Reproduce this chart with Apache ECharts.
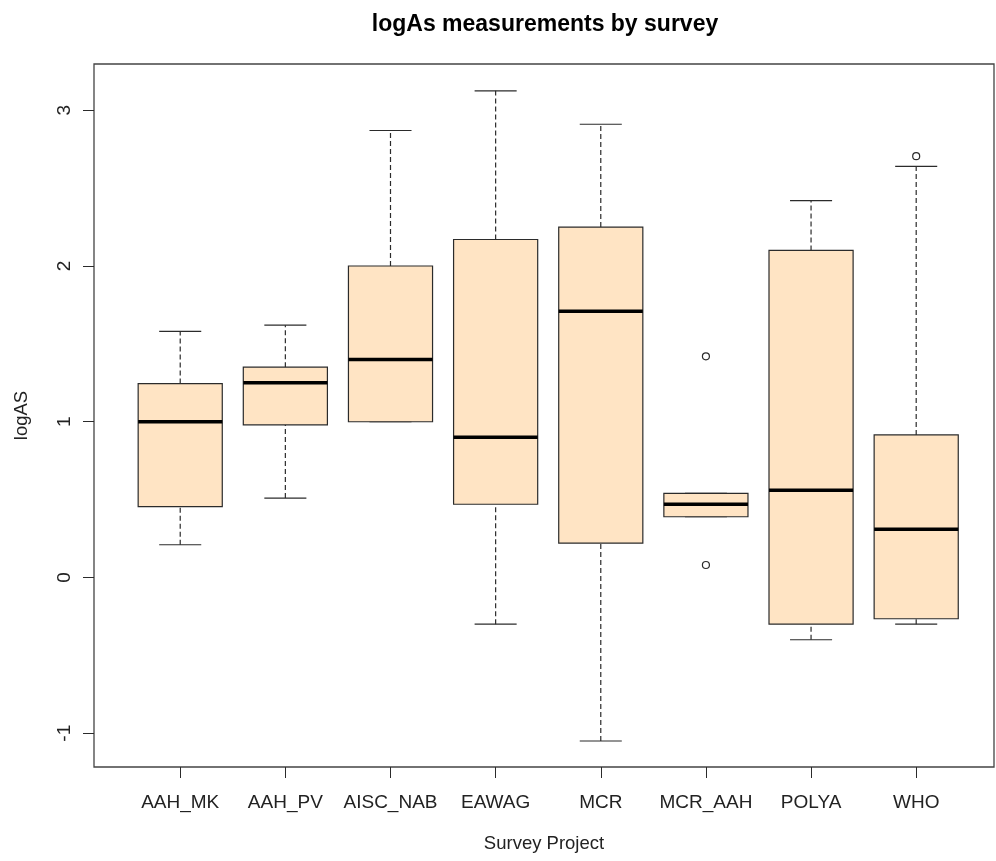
<!DOCTYPE html>
<html>
<head>
<meta charset="utf-8">
<title>logAs measurements by survey</title>
<script src="https://cdn.jsdelivr.net/npm/echarts@6/dist/echarts.min.js"></script>
<style>
    html, body { margin: 0; padding: 0; background: #fff; }
    #chart { width: 996px; height: 861px; }
</style>
</head>
<body>
<div id="chart"></div>
<script>
// survey projects, one box each (x position = index + 1)
const surveys = ['AAH_MK', 'AAH_PV', 'AISC_NAB', 'EAWAG', 'MCR', 'MCR_AAH', 'POLYA', 'WHO'];
const whiskerLow = [0.21, 0.51, 1.00, -0.30, -1.05, 0.39, -0.40, -0.30];
const q1 = [0.455, 0.98, 1.00, 0.47, 0.22, 0.39, -0.30, -0.265];
const median = [1.00, 1.25, 1.40, 0.90, 1.71, 0.47, 0.56, 0.31];
const q3 = [1.245, 1.35, 2.00, 2.17, 2.25, 0.54, 2.10, 0.915];
const whiskerHigh = [1.58, 1.62, 2.87, 3.125, 2.91, 0.54, 2.42, 2.64];

// points outside the whiskers
const outlierSurvey = ['MCR_AAH', 'MCR_AAH', 'WHO'];
const outlierValue = [1.42, 0.08, 2.705];

const yTicks = [-1, 0, 1, 2, 3];

const boxRows = surveys.map((s, i) => [i + 1, whiskerLow[i], q1[i], median[i], q3[i], whiskerHigh[i]]);
const outlierRows = outlierSurvey.map((s, i) => [surveys.indexOf(s) + 1, outlierValue[i]]);

const font = 'Liberation Sans, Arial, sans-serif';
const ink = '#2b2b2b';

function renderBox(params, api) {
    const x = api.value(0);
    const lo = api.coord([x, api.value(1)]);
    const b1 = api.coord([x, api.value(2)]);
    const md = api.coord([x, api.value(3)]);
    const b3 = api.coord([x, api.value(4)]);
    const hi = api.coord([x, api.value(5)]);
    const half = api.size([0.4, 0])[0];
    const cap = api.size([0.2, 0])[0];
    const cx = md[0];
    const dashed = { stroke: ink, lineWidth: 1.2, lineDash: [5, 3] };
    const solid = { stroke: ink, lineWidth: 1.2 };
    return {
        type: 'group',
        children: [
            { type: 'line', shape: { x1: cx, y1: lo[1], x2: cx, y2: b1[1] }, style: dashed },
            { type: 'line', shape: { x1: cx, y1: b3[1], x2: cx, y2: hi[1] }, style: dashed },
            { type: 'line', shape: { x1: cx - cap, y1: lo[1], x2: cx + cap, y2: lo[1] }, style: solid },
            { type: 'line', shape: { x1: cx - cap, y1: hi[1], x2: cx + cap, y2: hi[1] }, style: solid },
            {
                type: 'rect',
                shape: { x: cx - half, y: b3[1], width: half * 2, height: b1[1] - b3[1] },
                style: { fill: '#FFE4C4', stroke: ink, lineWidth: 1.2 }
            },
            { type: 'line', shape: { x1: cx - half, y1: md[1], x2: cx + half, y2: md[1] }, style: { stroke: '#000', lineWidth: 3.5 } }
        ]
    };
}

const chart = echarts.init(document.getElementById('chart'));
chart.setOption({
    backgroundColor: '#fff',
    animation: false,
    title: {
        text: 'logAs measurements by survey',
        left: 540,
        textAlign: 'center',
        top: 8,
        textStyle: { fontFamily: font, fontSize: 23, fontWeight: 'bold', color: '#000' }
    },
    grid: {
        left: 94,
        right: 2,
        top: 64,
        bottom: 94,
        show: true,
        borderColor: '#444',
        borderWidth: 1.3,
        backgroundColor: 'transparent',
        outerBoundsMode: 'none'
    },
    xAxis: {
        type: 'value',
        min: 0.18,
        max: 8.74,
        name: 'Survey Project',
        nameLocation: 'middle',
        nameGap: 67,
        nameTextStyle: { fontFamily: font, fontSize: 18.5, color: '#222' },
        axisLine: { show: false, onZero: false },
        splitLine: { show: false },
        axisTick: { show: true, length: 11, customValues: surveys.map((s, i) => i + 1), lineStyle: { color: ink } },
        axisLabel: {
            customValues: surveys.map((s, i) => i + 1),
            margin: 26,
            fontFamily: font,
            fontSize: 19,
            color: '#222',
            formatter: v => surveys[Math.round(v) - 1] || ''
        }
    },
    yAxis: {
        type: 'value',
        min: -1.217,
        max: 3.297,
        name: 'logAS',
        nameLocation: 'middle',
        nameGap: 63,
        nameRotate: 90,
        nameTextStyle: { fontFamily: font, fontSize: 18.5, color: '#222' },
        axisLine: { show: false, onZero: false },
        splitLine: { show: false },
        axisTick: { show: true, length: 11, customValues: yTicks, lineStyle: { color: ink } },
        axisLabel: {
            customValues: yTicks,
            rotate: 90,
            margin: 20,
            fontFamily: font,
            fontSize: 19,
            color: '#222'
        }
    },
    series: [
        {
            type: 'custom',
            data: boxRows,
            encode: { x: 0, y: [1, 2, 3, 4, 5] },
            renderItem: renderBox,
            silent: true,
            z: 2
        },
        {
            type: 'scatter',
            data: outlierRows,
            symbol: 'circle',
            symbolSize: 7,
            itemStyle: { color: '#fff', borderColor: ink, borderWidth: 1.2, opacity: 1 },
            silent: true,
            z: 3
        }
    ]
});
</script>
</body>
</html>
